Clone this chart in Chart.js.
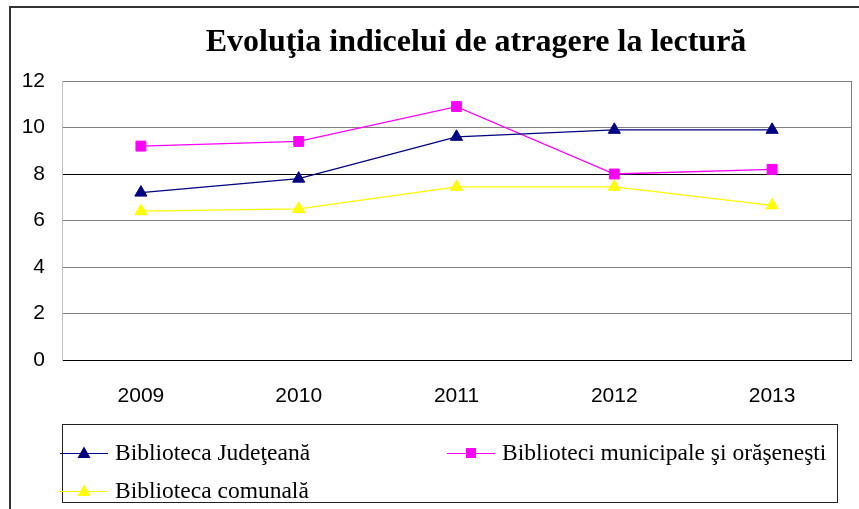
<!DOCTYPE html>
<html>
<head>
<meta charset="utf-8">
<script src="https://cdn.jsdelivr.net/npm/chart.js@4/dist/chart.umd.min.js"></script>
<style>
  html, body { margin: 0; padding: 0; background: #fff; }
  #box { width: 859px; height: 509px; }
</style>
</head>
<body>
<div id="box"><canvas id="grafic" width="859" height="509"></canvas></div>
<script>
// date
const titlu = 'Evoluţia indicelui de atragere la lectură';
const ani = ['2009', '2010', '2011', '2012', '2013'];
const judeteana = [7.2, 7.8, 9.6, 9.9, 9.9];
const municipale = [9.2, 9.4, 10.9, 8.0, 8.2];
const comunala = [6.4, 6.5, 7.45, 7.45, 6.65];
const etichete = ['Biblioteca Judeţeană', 'Biblioteci municipale şi orăşeneşti', 'Biblioteca comunală'];
const culori = ['#000080', '#FF00FF', '#FFFF00'];
const simboluri = ['triangle', 'rect', 'triangle'];

const serieri = [judeteana, municipale, comunala];

// marcaj simplu pentru legenda
function deseneazaSimbol(ctx, stil, x, y, culoare) {
  ctx.save();
  ctx.fillStyle = culoare;
  ctx.beginPath();
  if (stil === 'rect') {
    ctx.rect(x - 5, y - 5, 10, 10);
  } else {
    ctx.moveTo(x, y - 6.5);
    ctx.lineTo(x + 6.5, y + 5);
    ctx.lineTo(x - 6.5, y + 5);
    ctx.closePath();
  }
  ctx.fill();
  ctx.restore();
}

const cadru = {
  id: 'cadru',
  afterDraw(chart) {
    const ctx = chart.ctx;
    const a = chart.chartArea;
    ctx.save();
    // chenarul exterior
    ctx.strokeStyle = '#333';
    ctx.lineWidth = 2;
    ctx.beginPath();
    ctx.moveTo(10, 509);
    ctx.lineTo(10, 7);
    ctx.lineTo(859, 7);
    ctx.stroke();

    // marginea dreapta a zonei de grafic
    ctx.strokeStyle = '#808080';
    ctx.lineWidth = 1;
    ctx.beginPath();
    ctx.moveTo(Math.round(a.right) + 0.5, a.top);
    ctx.lineTo(Math.round(a.right) + 0.5, a.bottom);
    ctx.stroke();

    // titlu
    ctx.fillStyle = '#000';
    ctx.font = 'bold 32px "Liberation Serif", "Times New Roman", serif';
    ctx.textAlign = 'center';
    ctx.textBaseline = 'middle';
    ctx.fillText(titlu, 476, 43);

    // legenda
    const lx = a.left, ly = 424, lw = 837 - a.left, lh = 78;
    ctx.strokeStyle = '#222';
    ctx.lineWidth = 1;
    ctx.strokeRect(lx + 0.5, ly + 0.5, lw, lh);
    ctx.font = '23.5px "Liberation Serif", "Times New Roman", serif';
    ctx.textAlign = 'left';
    const coloane = [lx - 2, lx + 385];
    chart.data.datasets.forEach((ds, i) => {
      const x0 = coloane[i % 2];
      const y0 = ly + 29 + Math.floor(i / 2) * 38;
      ctx.strokeStyle = ds.borderColor;
      ctx.lineWidth = 1;
      ctx.beginPath();
      ctx.moveTo(x0, y0 + 0.5);
      ctx.lineTo(x0 + 48, y0 + 0.5);
      ctx.stroke();
      deseneazaSimbol(ctx, ds.pointStyle, x0 + 24, y0, ds.borderColor);
      ctx.fillStyle = '#000';
      ctx.fillText(ds.label, x0 + 55, y0 + 1);
    });
    ctx.restore();
  }
};

const ctx = document.getElementById('grafic').getContext('2d');
new Chart(ctx, {
  type: 'line',
  data: {
    labels: ani,
    datasets: serieri.map((valori, i) => ({
      label: etichete[i],
      data: valori,
      borderColor: culori[i],
      backgroundColor: culori[i],
      borderWidth: 1.3,
      pointStyle: simboluri[i],
      pointRadius: 7,
      pointBorderWidth: 1,
      pointBackgroundColor: culori[i],
      pointBorderColor: culori[i],
      tension: 0,
      fill: false
    }))
  },
  options: {
    responsive: false,
    animation: false,
    layout: { padding: { left: 0, top: 81, right: 7, bottom: 0 } },
    plugins: {
      legend: { display: false },
      title: { display: false },
      tooltip: { enabled: false }
    },
    scales: {
      x: {
        offset: true,
        grid: { display: false, drawTicks: false },
        border: { color: '#000', width: 1 },
        ticks: {
          color: '#000',
          padding: 24,
          font: { family: '"Liberation Sans", Arial, sans-serif', size: 21 }
        },
        afterFit(scale) { scale.height = 149; }
      },
      y: {
        min: 0,
        max: 12,
        ticks: {
          stepSize: 2,
          color: '#000',
          padding: 17,
          font: { family: '"Liberation Sans", Arial, sans-serif', size: 21 }
        },
        grid: {
          drawTicks: false,
          lineWidth: 1,
          color: (c) => (c.tick && (c.tick.value === 8 || c.tick.value === 0)) ? '#000' : '#808080'
        },
        border: { color: '#c0c0c0', width: 1 },
        afterFit(scale) { scale.width = 62; }
      }
    }
  },
  plugins: [cadru]
});
</script>
</body>
</html>
